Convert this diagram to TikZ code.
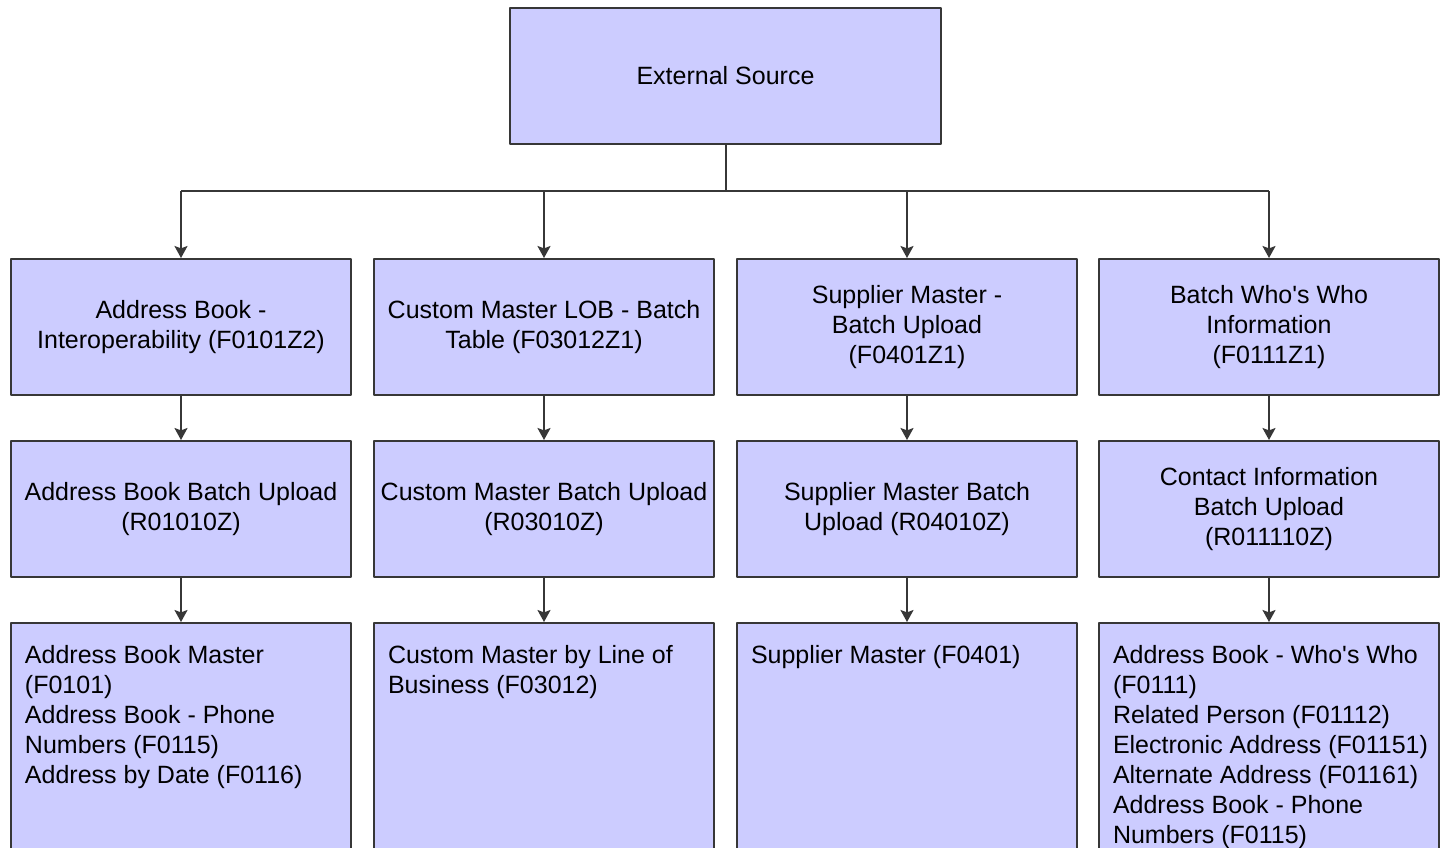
\documentclass[tikz,border=0pt]{standalone}
\usepackage{fontspec}
\setmainfont{Liberation Sans}
\usetikzlibrary{arrows.meta}
\definecolor{lav}{RGB}{204,204,255}
\definecolor{edge}{RGB}{55,55,55}
\tikzset{
	tbl/.style={draw=edge,fill=lav,line width=1pt,minimum width=170pt,minimum height=68pt,align=center,inner sep=2pt},
	bot/.style={tbl,anchor=north,inner xsep=7pt,inner ysep=11pt},
	link/.style={draw=edge,line width=1pt}
}
\newcommand{\cell}[1]{\parbox[t][130pt][t]{156pt}{\raggedright #1}}
\begin{document}
\begin{tikzpicture}[x=0.5pt,y=-0.5pt,>={Stealth[length=6pt,width=6.5pt,inset=1.2pt]},line join=round,font=\fontsize{12.5}{15}\selectfont]
	\useasboundingbox (0,0) rectangle (1445,847);
	% source
	\node[tbl,minimum width=215.5pt] (src) at (725.5,76) {External Source};
	% batch tables
	\node[tbl] (abi) at (181,327) {Address Book -\\Interoperability (F0101Z2)};
	\node[tbl] (cml) at (544,327) {Custom Master LOB - Batch\\Table (F03012Z1)};
	\node[tbl] (smb) at (907,327) {Supplier Master -\\Batch Upload\\(F0401Z1)};
	\node[tbl] (bww) at (1269,327) {Batch Who\textquotesingle s Who\\Information\\(F0111Z1)};
	% upload programs
	\node[tbl] (abu) at (181,509) {Address Book Batch Upload\\(R01010Z)};
	\node[tbl] (cmu) at (544,509) {Custom Master Batch Upload\\(R03010Z)};
	\node[tbl] (smu) at (907,509) {Supplier Master Batch\\Upload (R04010Z)};
	\node[tbl] (ciu) at (1269,509) {Contact Information\\Batch Upload\\(R011110Z)};
	% master tables
	\node[bot] (abm) at (181,622) {\cell{Address Book Master\\(F0101)\\Address Book - Phone\\Numbers (F0115)\\Address by Date (F0116)}};
	\node[bot] (cmb) at (544,622) {\cell{Custom Master by Line of\\Business (F03012)}};
	\node[bot] (sup) at (907,622) {\cell{Supplier Master (F0401)}};
	\node[bot] (abw) at (1269,622) {\cell{Address Book - Who\textquotesingle s Who\\(F0111)\\Related Person (F01112)\\\mbox{Electronic Address (F01151)}\\Alternate Address (F01161)\\Address Book - Phone\\Numbers (F0115)}};
	\draw[link] (src.south) -- ++(0,46) coordinate (bus);
	\draw[link] (abi.north |- bus) -- (bww.north |- bus);
	\foreach \n in {abi,cml,smb,bww}
	\draw[link,->] (\n.north |- bus) -- (\n.north);
	\foreach \a/\b in {abi/abu,abu/abm,cml/cmu,cmu/cmb,smb/smu,smu/sup,bww/ciu,ciu/abw}
	\draw[link,->] (\a.south) -- (\b.north);
\end{tikzpicture}
\end{document}
